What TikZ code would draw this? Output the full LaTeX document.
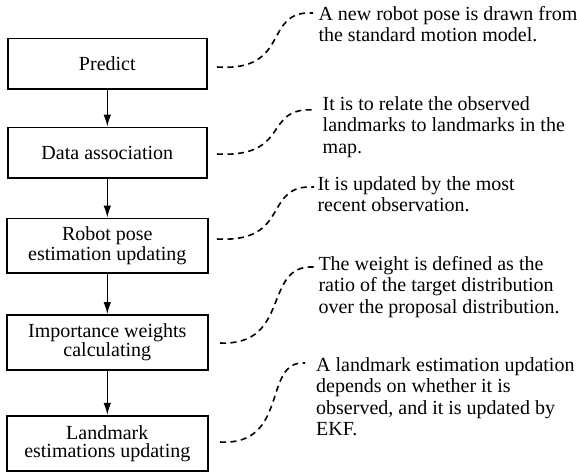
\documentclass[tikz,border=0pt]{standalone}
\usepackage{fontspec}
\setmainfont{Liberation Serif}
\usetikzlibrary{arrows.meta}
\begin{document}
\begin{tikzpicture}[x=1pt,y=-1pt,
  box/.style={draw, line width=1.7pt, inner sep=0pt, align=center,
    font=\fontsize{20}{18}\selectfont},
  note/.style={anchor=base west, inner sep=0pt, align=left,
    font=\fontsize{20}{21.5}\selectfont},
  flow/.style={line width=1.4pt, -{Latex[length=12pt,width=7.5pt]}},
  lead/.style={line width=1.6pt, dash pattern=on 6pt off 4.5pt}]
\useasboundingbox (0,0) rectangle (577,472);
% process boxes
\node[box, minimum width=199pt, minimum height=50.5pt] (p1) at (107.3,63.75) {Predict};
\node[box, minimum width=199pt, minimum height=50.5pt] (p2) at (107.3,152.75) {Data association};
\node[box, minimum width=201pt, minimum height=54.5pt] (p3) at (107.3,245.75) {Robot pose\\estimation updating};
\node[box, minimum width=201pt, minimum height=55pt] (p4) at (107.3,342.5) {Importance weights\\calculating};
\node[box, minimum width=201pt, minimum height=55pt] (p5) at (107.3,443.25) {Landmark\\estimations updating};
% flow arrows
\draw[flow] (p1) -- (p2);
\draw[flow] (p2) -- (p3);
\draw[flow] (p3) -- (p4);
\draw[flow] (p4) -- (p5);
% notes (anchored at the baseline of their last line)
\node[note] (t1) at (318.3,41.5) {A new robot pose is drawn from\\the standard motion model.};
\node[note] (t2) at (322.5,153) {It is to relate the observed\\landmarks to landmarks in the\\map.};
\node[note] (t3) at (317.3,211.5) {It is updated by the most\\recent observation.};
\node[note] (t4) at (318.3,313) {The weight is defined as the\\ratio of the target distribution\\over the proposal distribution.};
\node[note] (t5) at (316,435.5) {A landmark estimation updation\\depends on whether it is\\observed, and it is updated by\\EKF.};
% lead line end points
\coordinate (s1) at (217,67);
\coordinate (e1) at (313,13);
\coordinate (s2) at (217,154);
\coordinate (e2) at (315,110);
\coordinate (s3) at (217,239);
\coordinate (e3) at (314,187);
\coordinate (s4) at (220,343);
\coordinate (e4) at (314,267);
\coordinate (s5) at (220,442);
\coordinate (e5) at (305,363);
% dashed leads
\draw[lead] (s1) .. controls (292,72) and (262,10) .. (e1);
\draw[lead] (s2) .. controls (292,158) and (262,106) .. (e2);
\draw[lead] (s3) .. controls (292,243) and (262,184) .. (e3);
\draw[lead] (s4) .. controls (292,346) and (262,264) .. (e4);
\draw[lead] (s5) .. controls (290,446) and (262,360) .. (e5);
\end{tikzpicture}
\end{document}
